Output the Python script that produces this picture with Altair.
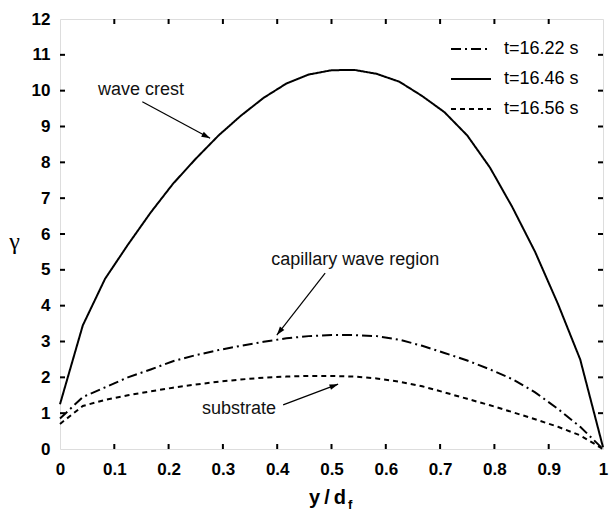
import math
import altair as alt
import pandas as pd

# ---------------- data ----------------
y_over_df = [0.0, 0.042, 0.083, 0.125, 0.167, 0.208, 0.25, 0.292, 0.333, 0.375,
             0.417, 0.458, 0.5, 0.542, 0.583, 0.625, 0.667, 0.708, 0.75, 0.792,
             0.833, 0.875, 0.917, 0.958, 1.0]
gamma_1622 = [0.85, 1.45, 1.72, 2.0, 2.22, 2.45, 2.62, 2.76, 2.88, 2.99,
              3.09, 3.15, 3.18, 3.18, 3.15, 3.05, 2.88, 2.68, 2.47, 2.22,
              1.95, 1.58, 1.12, 0.62, 0.0]
gamma_1646 = [1.25, 3.45, 4.75, 5.7, 6.6, 7.4, 8.1, 8.75, 9.3, 9.8,
              10.2, 10.45, 10.57, 10.58, 10.47, 10.25, 9.85, 9.4, 8.75, 7.85,
              6.75, 5.5, 4.05, 2.5, 0.05]
gamma_1656 = [0.7, 1.2, 1.37, 1.5, 1.61, 1.71, 1.8, 1.88, 1.94, 1.99,
              2.02, 2.04, 2.04, 2.02, 1.97, 1.88, 1.75, 1.58, 1.4, 1.22,
              1.03, 0.83, 0.62, 0.38, 0.0]
series_labels = ["t=16.22 s", "t=16.46 s", "t=16.56 s"]

x_tick_values = [0, 0.1, 0.2, 0.3, 0.4, 0.5, 0.6, 0.7, 0.8, 0.9, 1]
y_tick_values = [0, 1, 2, 3, 4, 5, 6, 7, 8, 9, 10, 11, 12]
x_inner_ticks = [0.1, 0.2, 0.3, 0.4, 0.5, 0.6, 0.7, 0.8, 0.9]
y_inner_ticks = [1, 2, 3, 4, 5, 6, 7, 8, 9, 10, 11]

ann_text = ["wave crest", "capillary wave region", "substrate"]
ann_text_x = [0.149, 0.5436, 0.3298]
ann_text_y = [10.02, 5.27, 1.12]
arrow_x1 = [0.1516, 0.4883, 0.4109]
arrow_y1 = [9.69, 4.91, 1.23]
arrow_x2 = [0.2764, 0.3993, 0.5122]
arrow_y2 = [8.67, 3.18, 1.81]

# ---------------- layout ----------------
W, H = 543, 430
FONT = "Liberation Sans"

rows = []
for lab, vals in zip(series_labels, [gamma_1622, gamma_1646, gamma_1656]):
    for xv, yv in zip(y_over_df, vals):
        rows.append({"series": lab, "x": xv, "y": yv})
df = pd.DataFrame(rows)

xs = alt.Scale(domain=[0, 1], nice=False, zero=False)
ys = alt.Scale(domain=[0, 12], nice=False, zero=False)

AX_X = alt.Axis(
    values=x_tick_values, format="~g", ticks=False, domain=False, grid=False,
    labelPadding=12, labelFont=FONT, labelFontSize=17, labelFontWeight="bold",
    labelColor="black", title=None, labelFlush=False, labelOverlap=False)
AX_Y = alt.Axis(
    values=y_tick_values, format="~g", ticks=False, domain=False, grid=False,
    labelPadding=10, labelFont=FONT, labelFontSize=17, labelFontWeight="bold",
    labelColor="black", labelOverlap=False, labelFlush=False,
    title="γ", titleAngle=0, titleFont="Liberation Serif",
    titleFontSize=24, titleFontWeight="normal", titleColor="black",
    titleX=-46, titleY=222, titleAlign="center", titleBaseline="middle")


def X(field):
    return alt.X(field, scale=xs, axis=AX_X)


def Y(field):
    return alt.Y(field, scale=ys, axis=AX_Y)


lines = alt.Chart(df).mark_line(color="black", strokeWidth=2).encode(
    x=X("x:Q"),
    y=Y("y:Q"),
    strokeDash=alt.StrokeDash("series:N", scale=alt.Scale(
        domain=series_labels, range=[[10, 4, 2, 4], [1, 0], [5, 4]]),
        legend=alt.Legend(title=None, orient="none", legendX=390, legendY=9,
                          symbolType="stroke", symbolSize=1600, symbolStrokeWidth=2,
                          symbolStrokeColor="black", labelFont=FONT, labelFontSize=18,
                          labelColor="black", labelOffset=12, padding=0,
                          rowPadding=-13.5)),
    detail="series:N",
)

# inward ticks on all four sides
xt = pd.DataFrame({"v": x_inner_ticks})
yt = pd.DataFrame({"v": y_inner_ticks})
tick_b = alt.Chart(xt).mark_rule(color="black", strokeWidth=2).encode(
    x=X("v:Q"), y=alt.value(H), y2=alt.value(H - 5))
tick_t = alt.Chart(xt).mark_rule(color="black", strokeWidth=2).encode(
    x=X("v:Q"), y=alt.value(0), y2=alt.value(5))
tick_l = alt.Chart(yt).mark_rule(color="black", strokeWidth=2).encode(
    y=Y("v:Q"), x=alt.value(0), x2=alt.value(5))
tick_r = alt.Chart(yt).mark_rule(color="black", strokeWidth=2).encode(
    y=Y("v:Q"), x=alt.value(W), x2=alt.value(W - 5))

# annotations
ann = pd.DataFrame({"t": ann_text, "x": ann_text_x, "y": ann_text_y})
ann_layer = alt.Chart(ann).mark_text(font=FONT, fontSize=18, color="#111",
                                     align="center", baseline="middle").encode(
    x=X("x:Q"), y=Y("y:Q"), text="t:N")

angles = []
for a, b, c, d in zip(arrow_x1, arrow_y1, arrow_x2, arrow_y2):
    dx = (c - a) * W
    dy = -(d - b) * H / 12
    angles.append(math.degrees(math.atan2(dx, -dy)) % 360)
arr = pd.DataFrame({"x1": arrow_x1, "y1": arrow_y1, "x2": arrow_x2,
                    "y2": arrow_y2, "ang": angles})
arrow_lines = alt.Chart(arr).mark_rule(color="black", strokeWidth=1.2).encode(
    x=X("x1:Q"), y=Y("y1:Q"), x2="x2:Q", y2="y2:Q")
arrow_heads = alt.Chart(arr).mark_point(
    shape="M0,0L-0.32,1L0.32,1Z", filled=True, color="black", opacity=1,
    size=300, strokeWidth=0).encode(
    x=X("x2:Q"), y=Y("y2:Q"),
    angle=alt.Angle("ang:Q", scale=None))

# x-axis title with subscript
xtitle_main = alt.Chart(pd.DataFrame({"t": ["y\u2009/\u2009d"]})).mark_text(
    font=FONT, fontSize=20, fontWeight="bold", color="black", align="right",
    baseline="alphabetic").encode(x=alt.value(286), y=alt.value(485), text="t:N")
xtitle_sub = alt.Chart(pd.DataFrame({"t": ["f"]})).mark_text(
    font=FONT, fontSize=13, fontWeight="bold", color="black", align="left",
    baseline="alphabetic").encode(x=alt.value(288), y=alt.value(490), text="t:N")

chart = alt.layer(
    lines, tick_b, tick_t, tick_l, tick_r, arrow_lines, arrow_heads,
    ann_layer, xtitle_main, xtitle_sub
).properties(
    width=W, height=H,
    autosize=alt.AutoSizeParams(type="none"),
    padding={"left": 60, "top": 19, "right": 6, "bottom": 71},
).configure_view(
    stroke="black", strokeWidth=2.5
).configure(background="white")

chart.save("out.html", embed_options={"renderer": "svg", "actions": False})
